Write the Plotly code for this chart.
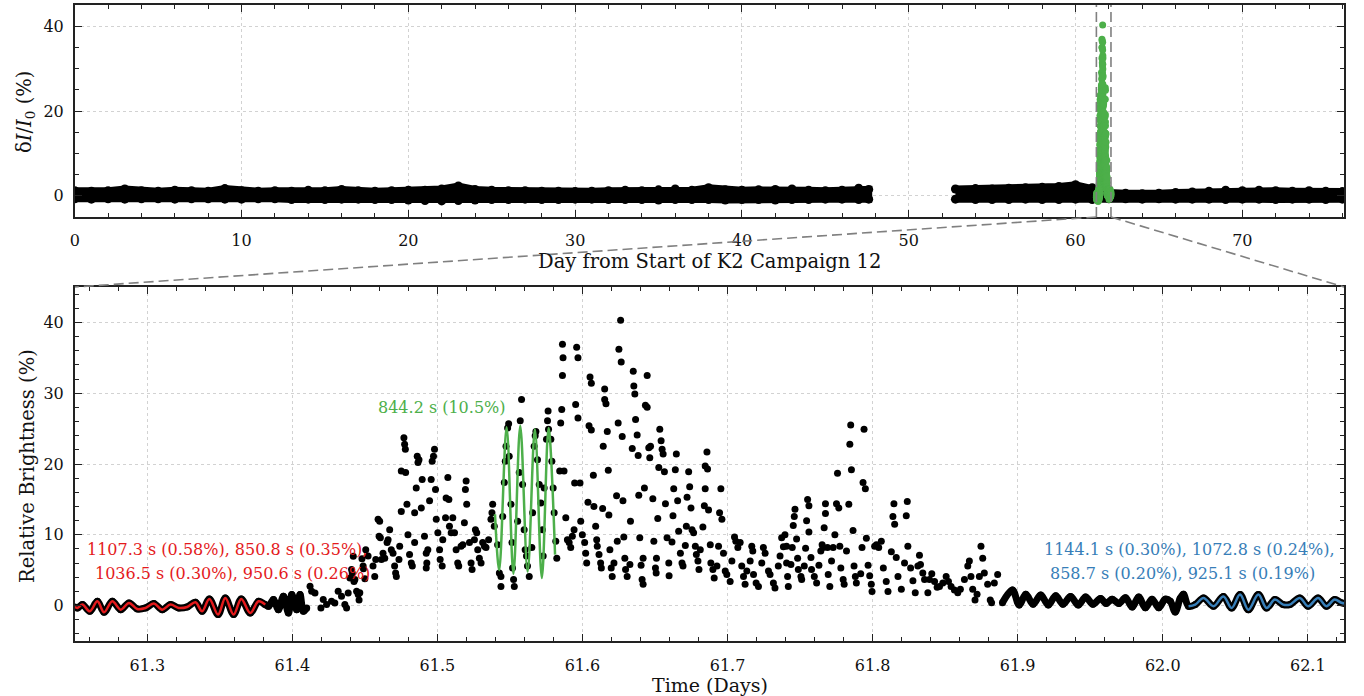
import plotly.graph_objects as go

# ---------------- Top panel: light-curve band (envelope readings, %) ----------------
days_a = list(range(48)) + [47.6]
upper_a = [1.2, 1.1, 1.2, 1.6, 1.2, 1.1, 1.3, 1.2, 1.1, 1.7, 1.2, 1.1, 1.2, 1.1, 1.3, 1.2,
           1.5, 1.2, 1.1, 1.2, 1.3, 1.3, 1.6, 2.3, 1.5, 1.3, 1.2, 1.2, 1.1, 1.1, 1.0, 1.1,
           1.2, 1.3, 1.2, 1.4, 1.6, 1.3, 1.9, 1.4, 1.3, 1.4, 1.5, 1.6, 1.3, 1.2, 1.3, 1.8, 1.5]
lower_a = [-0.7, -0.8, -0.7, -0.8, -0.7, -0.7, -0.8, -0.7, -0.7, -0.8, -0.8, -0.7, -0.7, -0.9,
           -0.8, -0.9, -0.8, -0.8, -0.9, -0.9, -1.0, -1.1, -1.2, -1.1, -1.0, -0.9, -0.9, -0.8,
           -0.9, -0.9, -0.8, -0.8, -0.9, -0.9, -0.9, -1.0, -0.9, -0.9, -0.9, -1.0, -0.9, -0.9,
           -1.0, -0.9, -0.9, -0.8, -0.8, -0.9, -0.8]
days_b = [52.8] + list(range(54, 77))
upper_b = [1.6, 1.7, 1.6, 1.8, 1.9, 2.0, 2.2, 2.6, 1.9, 0.8, 0.6, 0.5, 0.6, 0.8, 0.9, 1.1,
           1.3, 1.2, 1.3, 1.2, 1.1, 1.2, 1.1, 1.0]
lower_b = [-0.8, -0.9, -0.9, -0.9, -0.8, -0.9, -0.9, -0.8, -0.9, -0.7, -0.7, -0.8, -0.7, -0.8,
           -0.8, -0.8, -0.9, -0.8, -0.8, -0.9, -0.8, -0.8, -0.9, -0.8]

# ---------------- Bottom panel data (Relative Brightness, %) ----------------
quiet_left_t = [61.2500, 61.2519, 61.2553, 61.2604, 61.2656, 61.2702, 61.2759, 61.2817, 61.2874,
                61.2931, 61.2988, 61.3046, 61.3103, 61.3160, 61.3217, 61.3275, 61.3332, 61.3378,
                61.3428, 61.3488, 61.3538, 61.3595, 61.3648, 61.3710, 61.3767, 61.3813, 61.3836,
                61.3870, 61.3904, 61.3939, 61.3973, 61.3996, 61.4030, 61.4053, 61.4076, 61.4099]
quiet_left_y = [-0.2, -0.33, 0.14, -0.80, 0.61, -0.94, 0.61, -0.57, 0.38,
                -0.47, -0.33, 0.28, -0.57, 0.14, -0.33, -0.19, 0.47, -0.80,
                0.94, -1.27, 1.08, -1.27, 0.94, -1.04, 0.61, 0.14, -0.09,
                0.85, -0.57, 1.32, -1.04, 1.56, -0.57, 1.56, -0.80, -0.33]

flare_t = [
    61.4122, 61.4133, 61.4156, 61.4197, 61.4213, 61.4236, 61.4270, 61.4293, 61.4316, 61.4339,
    61.4362, 61.4374, 61.4385, 61.4397, 61.4408, 61.4420, 61.4431, 61.4443, 61.4454, 61.4413,
    61.4425, 61.4480, 61.4490, 61.4500,
    61.4506, 61.4522, 61.4488, 61.4465, 61.4460, 61.4556, 61.4568, 61.4575, 61.4591, 61.4602,
    61.4598, 61.4607, 61.4625, 61.4637, 61.4614, 61.4671, 61.4660, 61.4653, 61.4682, 61.4694,
    61.4705, 61.4712, 61.4717, 61.4740, 61.4735, 61.4751, 61.4769, 61.4774, 61.4779, 61.4751,
    61.4781, 61.4790, 61.4797, 61.4808, 61.4820, 61.4827, 61.4843, 61.4843, 61.4854, 61.4861,
    61.4866, 61.4873, 61.4889, 61.4895, 61.4911, 61.4923, 61.4927, 61.4923, 61.4934, 61.4946,
    61.4957, 61.4964, 61.4973, 61.4980, 61.4987, 61.4992, 61.5003, 61.5015, 61.5019, 61.5033,
    61.5037, 61.5056, 61.5060, 61.5072, 61.5079, 61.5083, 61.5095, 61.5106, 61.5118, 61.5129,
    61.5140, 61.5147, 61.5163, 61.5175, 61.5186, 61.5193, 61.5198, 61.5202, 61.5221, 61.5232,
    61.5239, 61.5255, 61.5262, 61.5271, 61.5278, 61.5289, 61.5301, 61.5312, 61.5324, 61.5335,
    61.5353, 61.5369, 61.5376, 61.5381, 61.5392, 61.5415, 61.5427, 61.5438, 61.5438, 61.5450,
    61.5461, 61.5468, 61.5473, 61.5484, 61.5491, 61.5495, 61.5507, 61.5514, 61.5518, 61.5525,
    61.5530, 61.5553, 61.5564, 61.5571, 61.5580, 61.5587, 61.5598, 61.5605, 61.5614, 61.5621,
    61.5633, 61.5651, 61.5656, 61.5667, 61.5674, 61.5679, 61.5690, 61.5702, 61.5713, 61.5724,
    61.5729, 61.5736, 61.5752, 61.5759, 61.5763, 61.5766, 61.5782, 61.5789, 61.5798, 61.5805,
    61.5816, 61.5823, 61.5843, 61.5850, 61.5857, 61.5862, 61.5866, 61.5862, 61.5873, 61.5885,
    61.5896, 61.5908,
    61.5960, 61.5969, 61.5953, 61.5969, 61.5946, 61.5983, 61.5930, 61.5942, 61.5919, 61.5988,
    61.5999, 61.6015, 61.6022, 61.6029, 61.6038, 61.6052, 61.6061, 61.6045, 61.6061, 61.6075,
    61.6079, 61.6091, 61.6098, 61.6102, 61.6114, 61.6125, 61.6130, 61.6139, 61.6143, 61.6153,
    61.6153, 61.6162, 61.6171, 61.6178, 61.6182, 61.6189, 61.6198, 61.6205, 61.6217, 61.6235,
    61.6240, 61.6246, 61.6251, 61.6263, 61.6267, 61.6274, 61.6279, 61.6285, 61.6292, 61.6297,
    61.6308, 61.6327, 61.6331, 61.6343, 61.6350, 61.6354, 61.6361, 61.6366, 61.6377, 61.6384,
    61.6388, 61.6395, 61.6404, 61.6411, 61.6418, 61.6418, 61.6427, 61.6434, 61.6446, 61.6446,
    61.6457, 61.6464, 61.6469, 61.6485, 61.6492, 61.6503, 61.6508, 61.6510, 61.6519, 61.6526,
    61.6533, 61.6542, 61.6549, 61.6556, 61.6565, 61.6572, 61.6583, 61.6595, 61.6597, 61.6617,
    61.6624, 61.6629, 61.6640, 61.6647, 61.6656, 61.6663, 61.6675, 61.6686, 61.6693, 61.6709,
    61.6716, 61.6721, 61.6732, 61.6739, 61.6748, 61.6755, 61.6766, 61.6778, 61.6785, 61.6796,
    61.6803, 61.6812, 61.6830, 61.6840, 61.6846, 61.6846, 61.6858, 61.6862, 61.6869, 61.6881,
    61.6885, 61.6899, 61.6908, 61.6927, 61.6938, 61.6945, 61.6954, 61.6961, 61.6972, 61.6984,
    61.6995, 61.7018, 61.7030, 61.7048, 61.7057, 61.7071, 61.7087, 61.7098, 61.7110, 61.7121,
    61.7133, 61.7156, 61.7167, 61.7174, 61.7179, 61.7197, 61.7213, 61.7236, 61.7247, 61.7259,
    61.7282, 61.7293, 61.7316, 61.7327, 61.7350, 61.7362, 61.7373, 61.7385,
    61.7396, 61.7407, 61.7407, 61.7414, 61.7419, 61.7437, 61.7446, 61.7453, 61.7460, 61.7465,
    61.7476, 61.7483, 61.7488, 61.7506, 61.7511, 61.7529, 61.7538, 61.7545, 61.7552, 61.7561,
    61.7561, 61.7575, 61.7579, 61.7598, 61.7614, 61.7630, 61.7643, 61.7652, 61.7659, 61.7666,
    61.7675, 61.7675, 61.7689, 61.7694, 61.7705, 61.7717, 61.7728, 61.7740, 61.7751, 61.7758,
    61.7767, 61.7774, 61.7781, 61.7797, 61.7804, 61.7820, 61.7836, 61.7843, 61.7849, 61.7854,
    61.7865, 61.7872, 61.7881, 61.7888, 61.7918, 61.7927, 61.7934, 61.7941, 61.7950, 61.7957,
    61.7969, 61.7980, 61.7991, 61.7996, 61.8014, 61.8026, 61.8042, 61.8060, 61.8074, 61.8094,
    61.8106, 61.8129, 61.8140, 61.8147, 61.8152, 61.8163, 61.8175, 61.8198, 61.8220, 61.8232,
    61.8239, 61.8243, 61.8262, 61.8278, 61.8294, 61.8312, 61.8323, 61.8330, 61.8346, 61.8358,
    61.8381, 61.8392, 61.8408, 61.8427, 61.8445, 61.8461, 61.8484, 61.8507, 61.8523, 61.8541,
    61.8564, 61.8587, 61.8605, 61.8633, 61.8656, 61.8667, 61.8678, 61.8690, 61.8706, 61.8720,
    61.8736, 61.8747, 61.8759, 61.8770, 61.8793, 61.8811, 61.8820, 61.8839, 61.8862]
flare_y = [
    2.74, 2.03, 1.79, -0.33, 0.85, 0.14, 0.61, 0.38, 2.03, 1.32,
    0.14, -0.33, 1.79, 3.91, 5.09, 6.98, 3.68, 2.03, 1.56, 4.6,
    3.4, 6.6, 5.2, 3.8,
    7.9, 7.0, 5.6, 1.8, 0.8, 5.6, 4.1, 6.5, 12.2, 11.9,
    9.8, 9.6, 7.4, 6.7, 6.5, 10.7, 9.3, 8.9, 7.9, 7.4,
    5.6, 4.6, 4.1, 8.4, 6.5, 13.3, 23.7, 22.8, 22.1, 19.0,
    18.8, 14.3, 10.0, 7.2, 6.0, 5.6, 13.1, 8.9, 16.6, 21.1,
    20.2, 20.6, 13.8, 17.8, 9.8, 7.4, 6.0, 5.3, 7.9, 14.8,
    17.8, 20.4, 21.1, 22.1, 16.4, 12.2, 10.3, 7.9, 6.5, 5.6,
    9.3, 12.4, 15.2, 18.1, 15.0, 11.2, 10.3, 12.4, 10.3, 7.9,
    6.0, 5.6, 8.4, 8.6, 11.7, 16.4, 17.6, 14.3, 8.9, 6.0,
    5.1, 9.3, 10.7, 10.3, 7.9, 6.7, 6.0, 8.9, 8.4, 8.2,
    9.3, 12.2, 13.1, 14.3, 11.2, 8.6, 4.6, 4.1, 2.7, 12.6,
    17.4, 20.4, 22.5, 25.1, 25.7, 21.1, 14.3, 8.9, 5.3, 3.7,
    2.7, 11.9, 18.8, 26.1, 29.1, 17.1, 10.7, 7.9, 7.0, 5.6,
    4.1, 8.2, 13.1, 22.5, 24.0, 24.6, 20.6, 17.1, 14.5, 10.7,
    7.0, 16.6, 23.5, 26.1, 27.5, 24.9, 23.5, 20.4, 16.6, 13.1,
    9.1, 6.7, 19.0, 25.8, 27.7, 32.5, 35.0, 36.9, 19.0, 12.4,
    9.3, 8.9,
    36.5, 35.0, 28.4, 26.5, 17.3, 17.3, 9.8, 10.7, 8.2, 11.9,
    10.0, 8.9, 7.4, 6.0, 14.6, 32.3, 31.4, 25.4, 24.8, 18.4,
    14.0, 11.2, 9.3, 8.4, 7.2, 6.0, 5.3, 13.7, 22.5, 30.6,
    29.1, 28.5, 24.6, 19.1, 12.8, 7.9, 5.3, 4.1, 6.0, 15.5,
    9.1, 25.8, 36.2, 40.3, 34.4, 23.9, 14.8, 9.7, 6.7, 5.1,
    4.1, 5.8, 11.9, 22.2, 33.1, 31.0, 29.9, 26.3, 24.1, 21.2,
    15.6, 9.6, 5.7, 3.7, 3.0, 6.7, 16.6, 28.3, 28.0, 32.5,
    22.3, 20.9, 22.5, 15.1, 9.1, 5.3, 4.6, 6.7, 12.3, 19.5,
    24.9, 23.3, 22.1, 21.4, 18.9, 14.4, 9.6, 6.0, 4.2, 9.0,
    12.7, 16.5, 19.2, 21.4, 14.8, 10.5, 7.4, 6.0, 5.6, 8.5,
    11.2, 15.3, 18.9, 16.8, 13.8, 10.7, 10.3, 8.4, 7.2, 6.3,
    5.1, 7.9, 11.1, 14.1, 16.5, 19.7, 21.7, 19.3, 13.5, 8.6,
    6.0, 5.1, 3.9, 5.6, 8.4, 13.1, 16.5, 12.2, 7.4, 4.9,
    4.4, 3.4, 6.3, 9.7, 9.1, 8.2, 8.9, 5.6, 4.1, 3.0,
    4.9, 6.3, 8.4, 7.7, 4.4, 3.2, 2.7, 6.0, 8.2, 7.4,
    4.9, 4.4, 3.2, 2.5, 5.6, 7.0, 9.6, 8.3,
    10.0, 8.4, 6.0, 4.1, 2.7, 5.8, 8.2, 11.3, 12.6, 13.6,
    9.4, 6.7, 5.1, 4.1, 3.7, 5.6, 8.1, 12.0, 15.0, 14.1,
    10.4, 6.8, 5.1, 4.1, 3.2, 5.7, 7.7, 8.6, 8.2, 11.0,
    13.0, 14.4, 8.2, 4.4, 2.7, 6.3, 8.2, 10.0, 14.4, 18.7,
    13.8, 8.4, 5.3, 3.7, 3.0, 7.7, 14.3, 22.8, 25.5, 19.2,
    10.6, 5.6, 4.1, 3.2, 4.5, 8.2, 17.4, 24.9, 16.5, 9.5,
    5.7, 4.2, 3.0, 2.0, 8.4, 8.6, 8.2, 9.1, 5.3, 3.4,
    2.0, 7.6, 12.6, 14.4, 11.5, 6.8, 4.1, 2.3, 6.0, 12.7,
    14.7, 8.4, 5.3, 3.5, 1.8, 5.6, 7.1, 5.8, 4.6, 3.7,
    1.8, 3.7, 4.5, 3.4, 2.6, 2.7, 3.2, 4.1, 3.4, 2.7,
    2.2, 1.8, 2.3, 3.7, 5.6, 6.3, 4.1, 2.3, 0.8, 1.6,
    4.1, 8.4, 6.7, 4.6, 3.0, 0.8, 0.4, 3.2, 4.4]

quiet_right_t = [61.8895, 61.8964, 61.9010, 61.9056, 61.9106, 61.9159, 61.9211, 61.9262, 61.9312,
                 61.9365, 61.9417, 61.9468, 61.9518, 61.9571, 61.9610, 61.9651, 61.9697, 61.9743,
                 61.9789, 61.9834, 61.9880, 61.9926, 61.9972, 62.0017, 62.0052, 62.0086, 62.0120,
                 62.0143, 62.0178, 62.0224, 62.0281, 62.0350, 62.0418, 62.0475, 62.0533, 62.0590,
                 62.0659, 62.0716, 62.0773, 62.0830, 62.0876, 62.0945, 62.1002, 62.1071, 62.1128,
                 62.1185, 62.1231, 62.1255]
quiet_right_y = [0.4, 2.2, 0.1, 1.6, 0.2, 1.5, 0.1, 1.4, 0.2,
                 1.3, 0.1, 1.2, 0.2, 1.0, 0.3, 0.9, 0.3, 1.1,
                 -0.2, 1.2, -0.3, 0.9, -0.3, 0.9, 0.6, -0.9, 1.0,
                 1.6, -0.1, 0.14, 1.08, -0.09, 1.3, -0.33, 1.56, -0.57,
                 1.56, -0.33, 0.85, 0.14, 0.14, 1.08, -0.09, 1.08, -0.09,
                 0.85, 0.4, 0.3]

# Multi-periodic fits
red_fit_t = [61.2500, 61.2519, 61.2553, 61.2604, 61.2656, 61.2702, 61.2759, 61.2817, 61.2874,
             61.2931, 61.2988, 61.3046, 61.3103, 61.3160, 61.3217, 61.3275, 61.3332, 61.3378,
             61.3428, 61.3488, 61.3538, 61.3595, 61.3648, 61.3710, 61.3767, 61.3813]
red_fit_y = [-0.2, -0.33, 0.14, -0.80, 0.61, -0.94, 0.61, -0.57, 0.38,
             -0.47, -0.33, 0.28, -0.57, 0.14, -0.33, -0.19, 0.47, -0.80,
             0.94, -1.27, 1.08, -1.27, 0.94, -1.04, 0.61, 0.14]
green_fit_t = [61.5397, 61.5426, 61.5477, 61.5524, 61.5571, 61.5622, 61.5672, 61.5720, 61.5766, 61.5811]
green_fit_y = [12.9, 5.0, 25.2, 4.5, 25.4, 4.8, 24.9, 3.9, 25.1, 7.2]
blue_fit_t = [62.0178, 62.0224, 62.0281, 62.0350, 62.0418, 62.0475, 62.0533, 62.0590, 62.0659,
              62.0716, 62.0773, 62.0830, 62.0876, 62.0945, 62.1002, 62.1071, 62.1128, 62.1185,
              62.1231, 62.1255]
blue_fit_y = [-0.1, 0.14, 1.08, -0.09, 1.3, -0.33, 1.56, -0.57, 1.56,
              -0.33, 0.85, 0.14, 0.14, 1.08, -0.09, 1.08, -0.09, 0.85,
              0.4, 0.3]

red_label = ["1107.3 s (0.58%), 850.8 s (0.35%),", "1036.5 s (0.30%), 950.6 s (0.26%)"]
blue_label = ["1144.1 s (0.30%), 1072.8 s (0.24%),", "858.7 s (0.20%), 925.1 s (0.19%)"]
green_label = "844.2 s (10.5%)"

top_xrange = [0, 76.1]
bot_xrange = [61.25, 62.125]
zoom_window = [61.25, 62.125]

BLACK = "black"
GREEN = "#4daf4a"
RED = "#e41a1c"
BLUE = "#377eb8"
FONT = "DejaVu Serif"

all_t = quiet_left_t + flare_t + quiet_right_t
all_y = quiet_left_y + flare_y + quiet_right_y

fig = go.Figure()

# ---- top panel ----
for dx, up, lo in [(days_a, upper_a, lower_a), (days_b, upper_b, lower_b)]:
    fig.add_trace(go.Scatter(x=dx + dx[::-1], y=up + lo[::-1], fill="toself", fillcolor=BLACK,
                             mode="lines", line=dict(color=BLACK, width=7),
                             xaxis="x", yaxis="y", hoverinfo="skip", showlegend=False))
    fig.add_trace(go.Scatter(x=dx + dx, y=up + lo, mode="markers",
                             marker=dict(size=9, color=BLACK), xaxis="x", yaxis="y",
                             hoverinfo="skip", showlegend=False))
fig.add_trace(go.Scatter(x=all_t, y=all_y, mode="markers", marker=dict(size=7, color=GREEN),
                         xaxis="x", yaxis="y", showlegend=False))

# ---- bottom panel ----
for qt, qy in [(quiet_left_t, quiet_left_y), (quiet_right_t, quiet_right_y)]:
    fig.add_trace(go.Scatter(x=qt, y=qy, mode="lines", line=dict(color=BLACK, width=7, shape="spline"),
                             xaxis="x2", yaxis="y2", hoverinfo="skip", showlegend=False))
fig.add_trace(go.Scatter(x=all_t, y=all_y, mode="markers", marker=dict(size=7, color=BLACK),
                         xaxis="x2", yaxis="y2", showlegend=False))
for ft, fy, col in [(red_fit_t, red_fit_y, RED), (green_fit_t, green_fit_y, GREEN),
                    (blue_fit_t, blue_fit_y, BLUE)]:
    fig.add_trace(go.Scatter(x=ft, y=fy, mode="lines",
                             line=dict(color=col, width=2.5, shape="spline"),
                             xaxis="x2", yaxis="y2", showlegend=False))

xdom = [70 / 1364, 1344 / 1364]
top_dom = [(696 - 217) / 696, (696 - 5) / 696]
bot_dom = [(696 - 641) / 696, (696 - 287) / 696]

axis_common = dict(showline=True, linecolor="#222", linewidth=1.6, mirror="allticks",
                   ticks="inside", ticklen=7, tickwidth=1.4, tickcolor="#222",
                   showgrid=True, gridcolor="#d2d2d2", griddash="dot", gridwidth=1,
                   zeroline=False, tickfont=dict(family=FONT, size=16, color="#111"))

fig.update_layout(
    width=1364, height=696, margin=dict(l=0, r=0, t=0, b=0),
    paper_bgcolor="white", plot_bgcolor="white", showlegend=False,
    xaxis=dict(domain=xdom, anchor="y", range=top_xrange, dtick=10, tick0=0,
               minor=dict(ticks="inside", dtick=2, ticklen=4, tickwidth=1.2, tickcolor="#222", showgrid=False),
               ticklabelstandoff=8, **axis_common),
    yaxis=dict(domain=top_dom, anchor="x", range=[-5, 45], dtick=20, tick0=0,
               minor=dict(ticks="inside", dtick=5, ticklen=4, tickwidth=1.2, tickcolor="#222", showgrid=False),
               ticklabelstandoff=6, **axis_common),
    xaxis2=dict(domain=xdom, anchor="y2", range=bot_xrange, dtick=0.1, tick0=61.3, tickformat=".1f",
                minor=dict(ticks="inside", dtick=0.02, ticklen=4, tickwidth=1.2, tickcolor="#222", showgrid=False),
                ticklabelstandoff=9, **axis_common),
    yaxis2=dict(domain=bot_dom, anchor="x2", range=[-5, 45], dtick=10, tick0=0,
                minor=dict(ticks="inside", dtick=2, ticklen=4, tickwidth=1.2, tickcolor="#222", showgrid=False),
                ticklabelstandoff=6, **axis_common),
)

dash_style = dict(color="#808080", width=1.6, dash="10px,5px")
shapes = []
for xv in zoom_window:
    shapes.append(dict(type="line", xref="x", yref="y domain", x0=xv, x1=xv, y0=0, y1=1,
                       line=dash_style, layer="above"))
shapes.append(dict(type="line", xref="x", yref="paper", x0=zoom_window[0], y0=top_dom[0],
                   x1=top_xrange[0], y1=bot_dom[1], line=dash_style, layer="above"))
shapes.append(dict(type="line", xref="x", yref="paper", x0=zoom_window[1], y0=top_dom[0],
                   x1=top_xrange[1], y1=bot_dom[1], line=dash_style, layer="above"))
fig.update_layout(shapes=shapes)

ann = []
# axis titles
ann.append(dict(text="Day from Start of K2 Campaign 12", x=707.5 / 1364, y=(696 - 262) / 696,
                xref="paper", yref="paper", showarrow=False, font=dict(family=FONT, size=19.5, color="#111"),
                xanchor="center", yanchor="middle"))
ann.append(dict(text="Time (Days)", x=707.5 / 1364, y=(696 - 685) / 696,
                xref="paper", yref="paper", showarrow=False, font=dict(family=FONT, size=19, color="#111"),
                xanchor="center", yanchor="middle"))
ann.append(dict(text="δ<i>I</i>/<i>I</i><sub>0</sub> (%)", x=20 / 1364, y=(696 - 112) / 696,
                xref="paper", yref="paper", showarrow=False, textangle=-90,
                font=dict(family=FONT, size=19.5, color="#111"), xanchor="center", yanchor="middle"))
ann.append(dict(text="Relative Brightness (%)", x=22 / 1364, y=(696 - 466) / 696,
                xref="paper", yref="paper", showarrow=False, textangle=-90,
                font=dict(family=FONT, size=19.5, color="#111"), xanchor="center", yanchor="middle"))
# fit labels
ann.append(dict(text=green_label, x=61.5033, y=28.0, xref="x2", yref="y2", showarrow=False,
                font=dict(family=FONT, size=16, color=GREEN), xanchor="center", yanchor="middle"))
ann.append(dict(text=red_label[0], x=61.3553, y=7.9, xref="x2", yref="y2", showarrow=False,
                font=dict(family=FONT, size=16, color=RED), xanchor="center", yanchor="middle"))
ann.append(dict(text=red_label[1], x=61.3587, y=4.5, xref="x2", yref="y2", showarrow=False,
                font=dict(family=FONT, size=16, color=RED), xanchor="center", yanchor="middle"))
ann.append(dict(text=blue_label[0], x=62.0187, y=7.9, xref="x2", yref="y2", showarrow=False,
                font=dict(family=FONT, size=16, color=BLUE), xanchor="center", yanchor="middle"))
ann.append(dict(text=blue_label[1], x=62.0136, y=4.5, xref="x2", yref="y2", showarrow=False,
                font=dict(family=FONT, size=16, color=BLUE), xanchor="center", yanchor="middle"))
fig.update_layout(annotations=ann)

fig.write_html("out.html")
